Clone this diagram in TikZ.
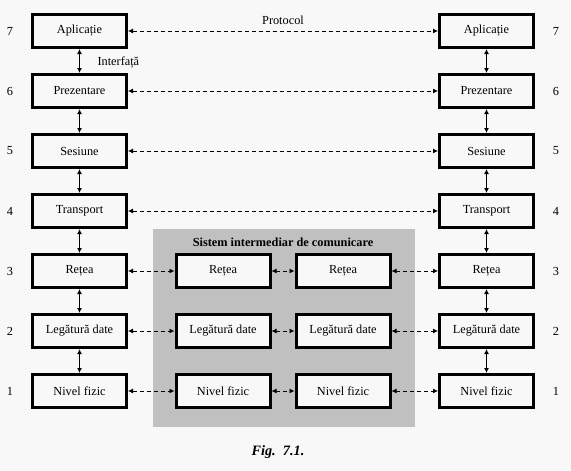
\documentclass[tikz,border=0pt]{standalone}
\usepackage{fontspec}
\setmainfont{Liberation Serif}
\usetikzlibrary{arrows.meta}
\definecolor{bgc}{RGB}{248,248,248}
\definecolor{grayc}{RGB}{192,192,192}
\begin{document}
\begin{tikzpicture}[x=1pt,y=-1pt,
  layer/.style={draw=black,line width=3pt,fill=bgc,minimum width=94pt,minimum height=33pt,inner sep=0pt,font=\fontsize{12.3}{14}\selectfont},
  num/.style={font=\fontsize{12.3}{14}\selectfont},
  vlink/.style={line width=1pt,{Latex[length=5pt,width=5pt]}-{Latex[length=5pt,width=5pt]}},
  hlink/.style={line width=0.8pt,dash pattern=on 4pt off 3pt,{Latex[length=5pt,width=5pt]}-{Latex[length=5pt,width=5pt]}}]
\fill[bgc] (0,0) rectangle (571,471);
\useasboundingbox (0,0) rectangle (571,471);
\fill[grayc] (153,229) rectangle (415,427);
\node[font=\bfseries\fontsize{12.3}{14}\selectfont] (title) at (283,242) {Sistem intermediar de comunicare};
% left stack
\node[layer] (L7) at (79.5,31) {Aplicație};
\node[layer] (L6) at (79.5,91) {Prezentare};
\node[layer] (L5) at (79.5,151) {Sesiune};
\node[layer] (L4) at (79.5,211) {Transport};
\node[layer] (L3) at (79.5,271) {Rețea};
\node[layer] (L2) at (79.5,331) {Legătură date};
\node[layer] (L1) at (79.5,391) {Nivel fizic};
% right stack
\node[layer] (R7) at (486.5,31) {Aplicație};
\node[layer] (R6) at (486.5,91) {Prezentare};
\node[layer] (R5) at (486.5,151) {Sesiune};
\node[layer] (R4) at (486.5,211) {Transport};
\node[layer] (R3) at (486.5,271) {Rețea};
\node[layer] (R2) at (486.5,331) {Legătură date};
\node[layer] (R1) at (486.5,391) {Nivel fizic};
% intermediate
\node[layer] (A3) at (223,271) {Rețea};
\node[layer] (A2) at (223,331) {Legătură date};
\node[layer] (A1) at (223,391) {Nivel fizic};
\node[layer] (B3) at (343,271) {Rețea};
\node[layer] (B2) at (343,331) {Legătură date};
\node[layer] (B1) at (343,391) {Nivel fizic};
% numbers
\foreach \n/\y in {7/31,6/91,5/151,4/211,3/271,2/331,1/391}{
  \node[num] (nl\n) at (10,\y) {\n};
  \node[num] (nr\n) at (556,\y) {\n};
}
% labels
\node[num] (proto) at (283,20) {Protocol};
\node[num,anchor=west] (intf) at (94,62) {Interfață};
\node[font=\bfseries\itshape\fontsize{14.3}{16}\selectfont] (fig) at (278,452) {Fig.\ \ 7.1.};
% vertical links
\foreach \a/\b in {7/6,6/5,5/4,4/3,3/2,2/1}{
  \draw[vlink] (L\a.south) -- (L\b.north);
  \draw[vlink] (R\a.south) -- (R\b.north);
}
% horizontal protocol links
\foreach \n in {7,6,5,4}{
  \draw[hlink] (L\n.east) -- (R\n.west);
}
\foreach \n in {3,2,1}{
  \draw[hlink] (L\n.east) -- (A\n.west);
  \draw[hlink] (A\n.east) -- (B\n.west);
  \draw[hlink] (B\n.east) -- (R\n.west);
}
\end{tikzpicture}
\end{document}
